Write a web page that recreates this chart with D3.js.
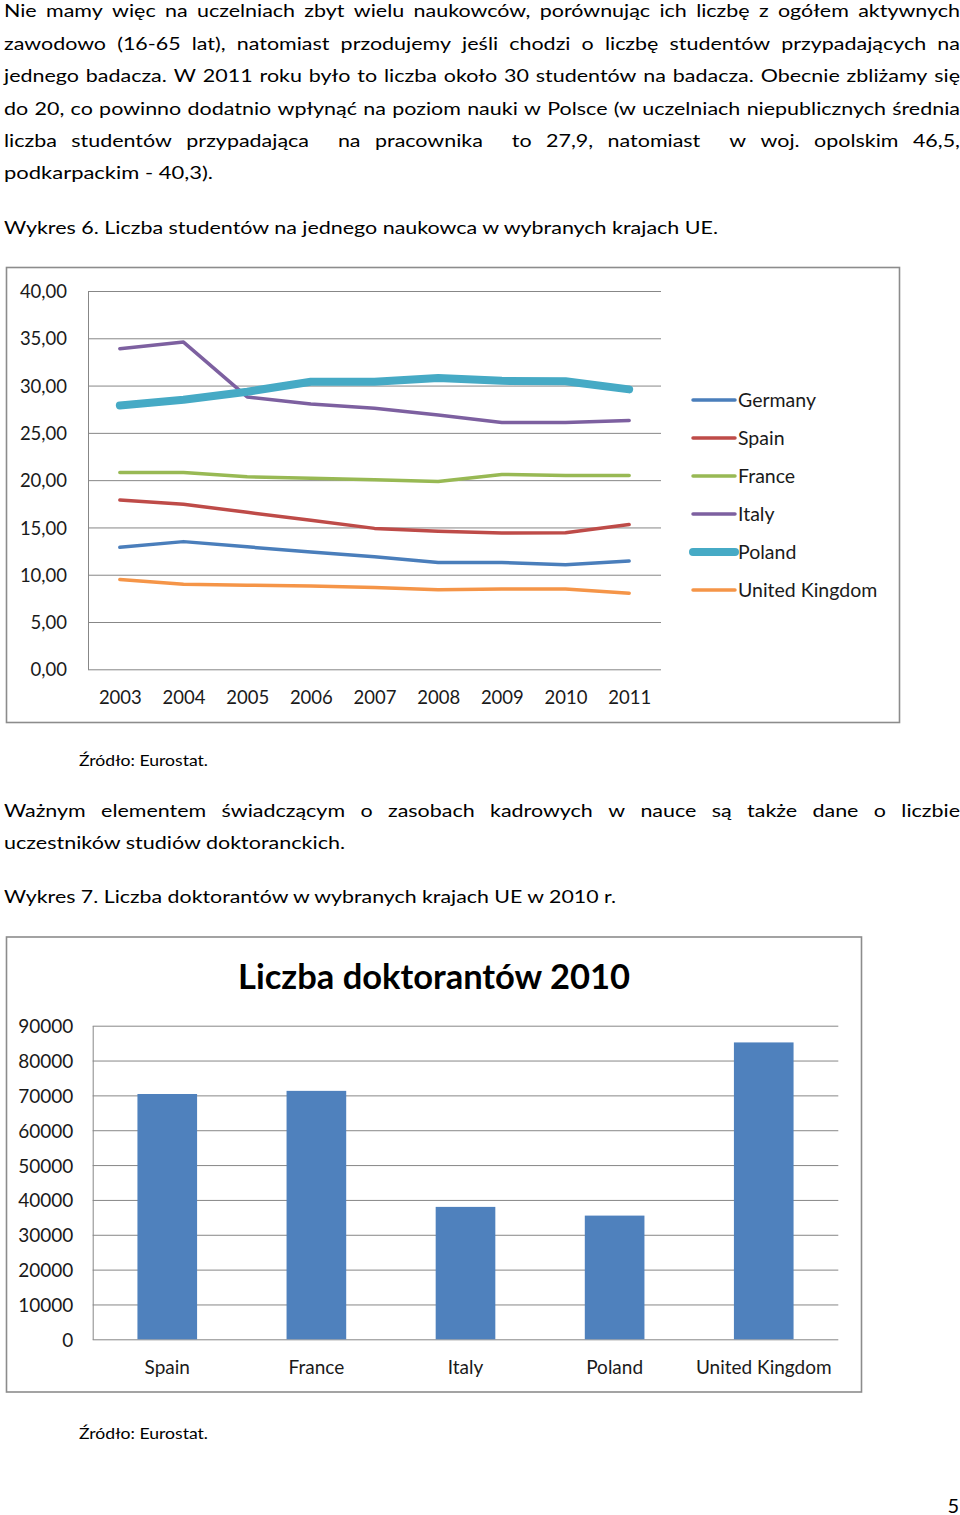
<!DOCTYPE html>
<html>
<head>
<meta charset="utf-8">
<script src="https://cdn.jsdelivr.net/npm/d3@7"></script>
<style>
  body { margin: 0; background: #fff; }
  svg { display: block; }
  text { font-family: Lato, "Open Sans", "Noto Sans", sans-serif; }
</style>
</head>
<body>
<svg id="page" width="960" height="1515"></svg>
<script>
// ---------------- DATA ----------------
const years = ["2003", "2004", "2005", "2006", "2007", "2008", "2009", "2010", "2011"];
const seriesNames = ["Germany", "Spain", "France", "Italy", "Poland", "United Kingdom"];
const germany = [12.9, 13.5, 12.95, 12.4, 11.9, 11.3, 11.3, 11.05, 11.45];
const spain   = [17.9, 17.45, 16.6, 15.75, 14.9, 14.6, 14.4, 14.45, 15.3];
const france  = [20.8, 20.8, 20.35, 20.2, 20.05, 19.85, 20.6, 20.5, 20.5];
const italy   = [33.9, 34.6, 28.8, 28.05, 27.6, 26.9, 26.1, 26.1, 26.3];
const poland  = [27.9, 28.5, 29.35, 30.4, 30.4, 30.8, 30.5, 30.45, 29.6];
const uk      = [9.5, 9.0, 8.9, 8.8, 8.65, 8.4, 8.5, 8.5, 8.05];
const lineTicks = [0, 5, 10, 15, 20, 25, 30, 35, 40];

const barCategories = ["Spain", "France", "Italy", "Poland", "United Kingdom"];
const barValues = [70400, 71300, 38000, 35500, 85200];
const barTicks = [0, 10000, 20000, 30000, 40000, 50000, 60000, 70000, 80000, 90000];
const barTitle = "Liczba doktorantów 2010";

const para1 = [
  "Nie mamy więc na uczelniach zbyt wielu naukowców, porównując ich liczbę z ogółem aktywnych",
  "zawodowo (16-65 lat), natomiast przodujemy jeśli chodzi o liczbę studentów przypadających na",
  "jednego badacza. W 2011 roku było to liczba około 30 studentów na badacza. Obecnie zbliżamy się",
  "do 20, co powinno dodatnio wpłynąć na poziom nauki w Polsce (w uczelniach niepublicznych średnia",
  "liczba studentów przypadająca  na pracownika  to 27,9, natomiast  w woj. opolskim 46,5,",
  "podkarpackim  - 40,3)."
];
const caption6 = "Wykres 6. Liczba studentów na jednego naukowca w wybranych krajach UE.";
const sourceText = "Źródło: Eurostat.";
const para2 = [
  "Ważnym elementem świadczącym o zasobach kadrowych w nauce są także dane o liczbie",
  "uczestników studiów doktoranckich."
];
const caption7 = "Wykres 7. Liczba doktorantów w wybranych krajach UE w 2010 r.";
const pageNumber = "5";

// ---------------- STYLE ----------------
const colors = ["#4a7ebb", "#be4b48", "#98b954", "#7d60a0", "#46aac5", "#f59548"];
const widths = [3.5, 3.5, 3.5, 3.5, 8, 3.5];
const gridColor = "#878787";
const textColor = "#1a1a1a";

const svg = d3.select("#page");

// ---------------- BODY TEXT ----------------
const bodySize = 17;
function measure(str, size, weight) {
  const t = svg.append("text").attr("font-size", size).attr("font-weight", weight || "normal").text(str);
  const w = t.node().getComputedTextLength();
  t.remove();
  return w;
}
const k = 714 / measure(caption6, bodySize);

function fixedLine(str, x, y, width, size) {
  svg.append("text")
    .attr("x", x).attr("y", y)
    .attr("font-size", size || bodySize)
    .attr("fill", "#000")
    .attr("textLength", width)
    .attr("lengthAdjust", "spacingAndGlyphs")
    .text(str);
}
function justifiedLine(str, x0, x1, y) {
  const tokens = str.split(" ");
  const nat = tokens.map(t => t ? measure(t, bodySize) : 0);
  const totNat = d3.sum(nat);
  let kk = k;
  let gap = ((x1 - x0) - totNat * kk) / (tokens.length - 1);
  if (gap < 3.5) {
    kk = ((x1 - x0) - 3.5 * (tokens.length - 1)) / totNat;
    gap = 3.5;
  }
  let x = x0;
  tokens.forEach((t, i) => {
    if (t) {
      svg.append("text")
        .attr("x", x).attr("y", y)
        .attr("font-size", bodySize)
        .attr("fill", "#000")
        .attr("textLength", nat[i] * kk)
        .attr("lengthAdjust", "spacingAndGlyphs")
        .text(t);
    }
    x += nat[i] * kk + gap;
  });
}

const bodyBase = [17.3, 49.7, 82.1, 114.5, 146.9, 179.3];
para1.forEach((s, i) => {
  if (i < 5) justifiedLine(s, 4, 960, bodyBase[i]);
  else fixedLine(s, 4, bodyBase[i], 209);
});
fixedLine(caption6, 4, 234, 714);
fixedLine(sourceText, 79, 766, 129, 15);
justifiedLine(para2[0], 4, 960, 817);
fixedLine(para2[1], 4, 849, 341);
fixedLine(caption7, 4, 903, 612);
fixedLine(sourceText, 79, 1439, 129, 15);
svg.append("text").attr("x", 959).attr("y", 1512.5).attr("text-anchor", "end")
  .attr("font-size", 20).attr("fill", "#000").text(pageNumber);

// ---------------- LINE CHART ----------------
svg.append("rect").attr("x", 6.5).attr("y", 267.5).attr("width", 893).attr("height", 455)
  .attr("fill", "#fff").attr("stroke", "#8c8c8c").attr("stroke-width", 1.6);

const lx = d3.scalePoint().domain(years).range([88, 661]).padding(0.5);
const ly = d3.scaleLinear().domain([0, 40]).range([669.3, 291]);
const fmtComma = v => d3.format(".2f")(v).replace(".", ",");

const gy1 = svg.append("g").attr("transform", "translate(88,0)")
  .call(d3.axisLeft(ly).tickValues(lineTicks).tickSize(-573).tickSizeOuter(0).tickPadding(21).tickFormat(fmtComma));
gy1.selectAll(".tick line").attr("stroke", gridColor).attr("stroke-width", 1);
gy1.select(".domain").attr("stroke", gridColor).attr("stroke-width", 1);
gy1.selectAll(".tick text").attr("font-size", 18.5).attr("font-family", null).attr("fill", textColor).attr("dy", "0.36em");

const gx1 = svg.append("g").attr("transform", "translate(0,669.3)")
  .call(d3.axisBottom(lx).tickSize(0).tickPadding(0));
gx1.select(".domain").remove();
gx1.selectAll(".tick text").attr("font-size", 18.5).attr("font-family", null).attr("fill", textColor)
  .attr("dy", null).attr("y", 35);

const allSeries = [germany, spain, france, italy, poland, uk];
const lineGen = d3.line().x((d, i) => lx(years[i])).y(d => ly(d)).curve(d3.curveLinear);
allSeries.forEach((s, i) => {
  svg.append("path").datum(s).attr("d", lineGen)
    .attr("fill", "none").attr("stroke", colors[i]).attr("stroke-width", widths[i])
    .attr("stroke-linecap", "round").attr("stroke-linejoin", "round");
});

const legend = svg.append("g");
seriesNames.forEach((n, i) => {
  const cy = 400 + 38 * i;
  legend.append("line").attr("x1", 693).attr("x2", 735).attr("y1", cy).attr("y2", cy)
    .attr("stroke", colors[i]).attr("stroke-width", widths[i]).attr("stroke-linecap", "round");
  legend.append("text").attr("x", 738).attr("y", cy + 7).attr("font-size", 19.5).attr("fill", textColor).text(n);
});

// ---------------- BAR CHART ----------------
svg.append("rect").attr("x", 6.5).attr("y", 937).attr("width", 855).attr("height", 455)
  .attr("fill", "#fff").attr("stroke", "#8c8c8c").attr("stroke-width", 1.6);

svg.append("text").attr("x", 434).attr("y", 989).attr("text-anchor", "middle")
  .attr("font-size", 34.5).attr("font-weight", "bold").attr("fill", "#000").text(barTitle);

const bx = d3.scaleBand().domain(barCategories).range([92.7, 838.3]).paddingInner(0.6).paddingOuter(0.3);
const by = d3.scaleLinear().domain([0, 90000]).range([1339.3, 1025.7]);

const gy2 = svg.append("g").attr("transform", "translate(92.7,0)")
  .call(d3.axisLeft(by).tickValues(barTicks).tickSize(-745.6).tickSizeOuter(0).tickPadding(19.4).tickFormat(d3.format("d")));
gy2.selectAll(".tick line").attr("stroke", gridColor).attr("stroke-width", 1);
gy2.select(".domain").attr("stroke", gridColor).attr("stroke-width", 1);
gy2.selectAll(".tick text").attr("font-size", 19).attr("font-family", null).attr("fill", textColor).attr("dy", "0.37em");

svg.append("g").selectAll("rect").data(barValues).join("rect")
  .attr("x", (d, i) => bx(barCategories[i]))
  .attr("y", d => by(d))
  .attr("width", bx.bandwidth())
  .attr("height", d => by(0) - by(d))
  .attr("fill", "#4f81bd");

const gx2 = svg.append("g").attr("transform", "translate(0,1339.3)")
  .call(d3.axisBottom(bx).tickSize(0).tickPadding(0));
gx2.select(".domain").remove();
gx2.selectAll(".tick text").attr("font-size", 19).attr("font-family", null).attr("fill", textColor)
  .attr("dy", null).attr("y", 35);
</script>
</body>
</html>
